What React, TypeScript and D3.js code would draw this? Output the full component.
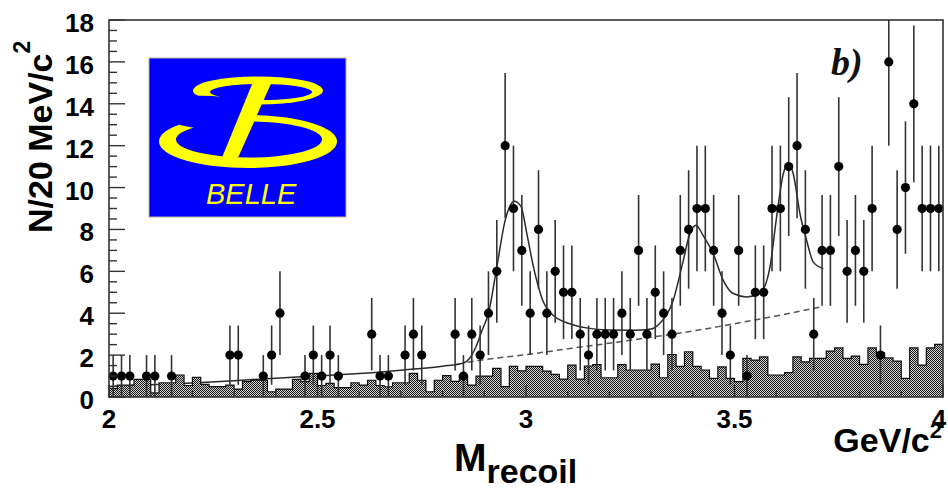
import React from 'react';
import * as d3 from 'd3';

// ---------- data ----------
// observed counts per 20 MeV bin, M_recoil from 2.00 to 4.00 GeV/c^2 (100 bins)
const counts = [
  1, 1, 1, 0, 1, 1, 0, 1, 0, 0,
  0, 0, 0, 0, 2, 2, 0, 0, 1, 2,
  4, 0, 0, 1, 2, 1, 2, 1, 0, 0,
  0, 3, 1, 1, 0, 2, 3, 2, 0, 0,
  0, 3, 1, 3, 2, 4, 6, 12, 9, 7,
  4, 8, 4, 6, 5, 5, 3, 2, 3, 3,
  3, 4, 3, 7, 3, 5, 4, 3, 7, 8,
  9, 9, 7, 4, 2, 7, 1, 5, 5, 9,
  9, 11, 12, 8, 3, 7, 7, 11, 6, 7,
  6, 9, 2, 16, 8, 10, 14, 9, 9, 9,
];

// shaded (background estimate) histogram per bin
const bgHist = [
  0.4, 0.57, 0.57, 0.84, 0.84, 0.2, 0.68, 0.68, 1.05, 0.55,
  0.94, 0.6, 0.5, 0.5, 0.57, 0.38, 0.73, 0.8, 0.8, 0.25,
  0.38, 0.38, 0.84, 0.73, 1.13, 0.55, 0.65, 0.45, 0.45, 0.68,
  0.57, 0.8, 0.55, 0.49, 0.68, 0.68, 1.13, 0.8, 0.25, 0.8,
  1.02, 0.75, 1.02, 0.57, 1.0, 1.0, 1.37, 0.5, 1.46, 1.25,
  1.46, 1.46, 1.24, 1.08, 0.85, 1.52, 0.85, 1.48, 1.55, 0.92,
  0.92, 1.55, 1.29, 1.29, 1.29, 1.57, 0.92, 2.03, 1.46, 2.16,
  1.46, 1.29, 0.89, 1.44, 0.89, 0.73, 1.84, 1.76, 1.92, 1.05,
  1.05, 1.16, 1.92, 1.68, 1.84, 1.84, 2.19, 2.35, 1.84, 1.95,
  1.56, 2.35, 2.11, 1.87, 1.71, 0.89, 2.35, 1.52, 2.35, 2.51,
];

// total fit curve
const fitMass = [
  2.0, 2.1, 2.2, 2.3, 2.4, 2.5, 2.6, 2.7, 2.8, 2.85, 2.865, 2.88, 2.895, 2.91, 2.93, 2.95,
  2.972, 2.988, 3.002, 3.018, 3.04, 3.065, 3.105, 3.145, 3.2, 3.26, 3.3, 3.32, 3.353,
  3.377, 3.393, 3.408, 3.425, 3.449, 3.473, 3.497, 3.529, 3.561, 3.585, 3.601, 3.617,
  3.629, 3.641, 3.657, 3.673, 3.689, 3.713,
];
const fitValue = [
  0.5, 0.58, 0.67, 0.78, 0.9, 1.0, 1.12, 1.28, 1.47, 1.62, 1.85, 2.4, 3.2, 4.0, 6.2, 8.43,
  9.35, 9.1, 7.8, 6.2, 4.62, 3.9, 3.5, 3.3, 3.2, 3.19, 3.25, 3.5, 4.62,
  6.5, 7.8, 8.2, 7.7, 6.84, 5.57, 4.94, 4.78, 4.94, 6.2, 8.6, 10.65,
  11.16, 10.65, 8.75, 7.48, 6.44, 6.13,
];

// background component of the fit (dashed)
const bkgMass = [2.86, 2.9, 3.0, 3.1, 3.2, 3.3, 3.4, 3.5, 3.6, 3.713];
const bkgValue = [1.66, 1.78, 2.02, 2.3, 2.57, 2.85, 3.15, 3.5, 3.87, 4.33];

const xMajorTicks = [2, 2.5, 3, 3.5, 4];
const xTickLabels = ['2', '2.5', '3', '3.5', '4'];
const yMajorTicks = [0, 2, 4, 6, 8, 10, 12, 14, 16, 18];

const BIN_LO = 2.0;
const BIN_W = 0.02;

// ---------- layout ----------
const W = 948;
const H = 490;
const PL = 109, PR = 943, PT = 20, PB = 397;
const FONT = '"Liberation Sans", Arial, Helvetica, sans-serif';

function BelleLogo() {
  const blue = '#0000ff';
  const yel = '#ffff00';
  return (
    <g>
      <rect x={149} y={58} width={197} height={159} fill={blue} stroke="#b8b890" strokeWidth={1} />
      {/* lower loop */}
      <ellipse cx={248} cy={141.5} rx={89} ry={26.5} fill={yel} />
      <ellipse cx={249} cy={139.5} rx={73} ry={18} fill={blue} />
      <polygon points="172,100 180,125 197,128.5 252,124 252,100" fill={blue} />
      {/* upper loop */}
      <ellipse cx={258} cy={90.5} rx={65} ry={14} fill={yel} />
      <ellipse cx={261} cy={92} rx={51} ry={8} fill={blue} />
      <polygon points="188,95.5 213,96 262,101 262,112 188,112" fill={blue} />
      {/* stem */}
      <polygon points="255,77 274,77 237,160 221,160" fill={yel} />
      <text x={206} y={204} fill={yel} fontFamily={FONT} fontStyle="italic" fontSize={29}>BELLE</text>
    </g>
  );
}

export default function App() {
  const x = d3.scaleLinear().domain([2, 4]).range([PL, PR]);
  const y = d3.scaleLinear().domain([0, 18]).range([PB, PT]);

  const histPts: [number, number][] = bgHist.map((v, i) => [BIN_LO + i * BIN_W, v]);
  histPts.push([BIN_LO + bgHist.length * BIN_W, bgHist[bgHist.length - 1]]);

  const area = d3
    .area<[number, number]>()
    .x((d) => x(d[0]))
    .y0(y(0))
    .y1((d) => y(d[1]))
    .curve(d3.curveStepAfter);
  const outline = d3
    .line<[number, number]>()
    .x((d) => x(d[0]))
    .y((d) => y(d[1]))
    .curve(d3.curveStepAfter);

  const fitLine = d3
    .line<number>()
    .x((_, i) => x(fitMass[i]))
    .y((v) => y(v))
    .curve(d3.curveMonotoneX);
  const bkgLine = d3
    .line<number>()
    .x((_, i) => x(bkgMass[i]))
    .y((v) => y(v))
    .curve(d3.curveMonotoneX);

  const minorX = d3.range(0, 21).map((i) => 2 + i * 0.1);
  const minorY = d3.range(0, 37).map((i) => i * 0.5);

  const pts = counts
    .map((n, i) => ({ m: BIN_LO + (i + 0.5) * BIN_W, n }))
    .filter((d) => d.n > 0);

  return (
    <div style={{ position: 'absolute', left: 0, top: 0 }}>
      <svg width={W} height={H} viewBox={`0 0 ${W} ${H}`} style={{ display: 'block', background: '#fff' }}>
        <defs>
          <pattern id="checker" width={2} height={2} patternUnits="userSpaceOnUse">
            <rect width={2} height={2} fill="#d0d0d0" />
            <rect x={0} y={0} width={1} height={1} fill="#1a1a1a" />
            <rect x={1} y={1} width={1} height={1} fill="#1a1a1a" />
          </pattern>
          <clipPath id="plotClip">
            <rect x={PL} y={PT} width={PR - PL} height={PB - PT} />
          </clipPath>
        </defs>

        <BelleLogo />

        {/* fit curves */}
        <g clipPath="url(#plotClip)">
          <path d={fitLine(fitValue) || ''} fill="none" stroke="#2a2a2a" strokeWidth={1.5} />
          <path d={bkgLine(bkgValue) || ''} fill="none" stroke="#555" strokeWidth={1.5} strokeDasharray="6,4" />
        </g>

        {/* shaded histogram */}
        <path d={area(histPts) || ''} fill="url(#checker)" shapeRendering="crispEdges" />
        <path d={outline(histPts) || ''} fill="none" stroke="#111" strokeWidth={1.2} />

        {/* data points with errors */}
        <g>
          {pts.map((d, i) => {
            const e = Math.sqrt(d.n);
            const top = Math.min(18, d.n + e);
            const bot = Math.max(0, d.n - e);
            return (
              <g key={i}>
                <line x1={x(d.m)} x2={x(d.m)} y1={y(bot)} y2={y(top)} stroke="#333" strokeWidth={1.6} />
                <circle cx={x(d.m)} cy={y(d.n)} r={4.6} fill="#000" />
              </g>
            );
          })}
        </g>

        {/* frame */}
        <rect x={PL} y={PT} width={PR - PL} height={PB - PT} fill="none" stroke="#333" strokeWidth={1.6} />

        {/* x ticks */}
        {minorX.map((t, i) => {
          const major = i % 5 === 0;
          return (
            <line key={'xt' + i} x1={x(t)} x2={x(t)} y1={PB} y2={PB - (major ? 12 : 6)} stroke="#333" strokeWidth={1.4} />
          );
        })}
        {/* y ticks */}
        {minorY.map((t, i) => {
          const major = i % 4 === 0;
          return (
            <line key={'yt' + i} x1={PL} x2={PL + (major ? 16 : 8)} y1={y(t)} y2={y(t)} stroke="#333" strokeWidth={1.4} />
          );
        })}

        {/* tick labels */}
        {xMajorTicks.map((t, i) => (
          <text key={'xl' + i} x={Math.min(x(t), 939)} y={428} textAnchor="middle" fontFamily={FONT} fontWeight="bold" fontSize={26} fill="#000">
            {xTickLabels[i]}
          </text>
        ))}
        {yMajorTicks.map((t) => (
          <text key={'yl' + t} x={94} y={y(t) + 12} textAnchor="end" fontFamily={FONT} fontWeight="bold" fontSize={26} fill="#000">
            {t}
          </text>
        ))}

        {/* axis titles */}
        <text transform="translate(52,233) rotate(-90)" fontFamily={FONT} fontWeight="bold" fontSize={34} fill="#000">
          N/20 MeV/c<tspan dy={-22} fontSize={23}>2</tspan>
        </text>
        <text x={454} y={471} fontFamily={FONT} fontWeight="bold" fontSize={39} fill="#000">
          M<tspan dy={12} fontSize={34}>recoil</tspan>
        </text>
        <text x={942} y={452} textAnchor="end" fontFamily={FONT} fontWeight="bold" fontSize={34} fill="#000">
          GeV/c<tspan dy={-14} fontSize={22}>2</tspan>
        </text>

        {/* panel label */}
        <text x={831} y={75} fontFamily='"Liberation Serif", "Times New Roman", serif' fontWeight="bold" fontStyle="italic" fontSize={38} fill="#111">
          b)
        </text>
      </svg>
    </div>
  );
}
